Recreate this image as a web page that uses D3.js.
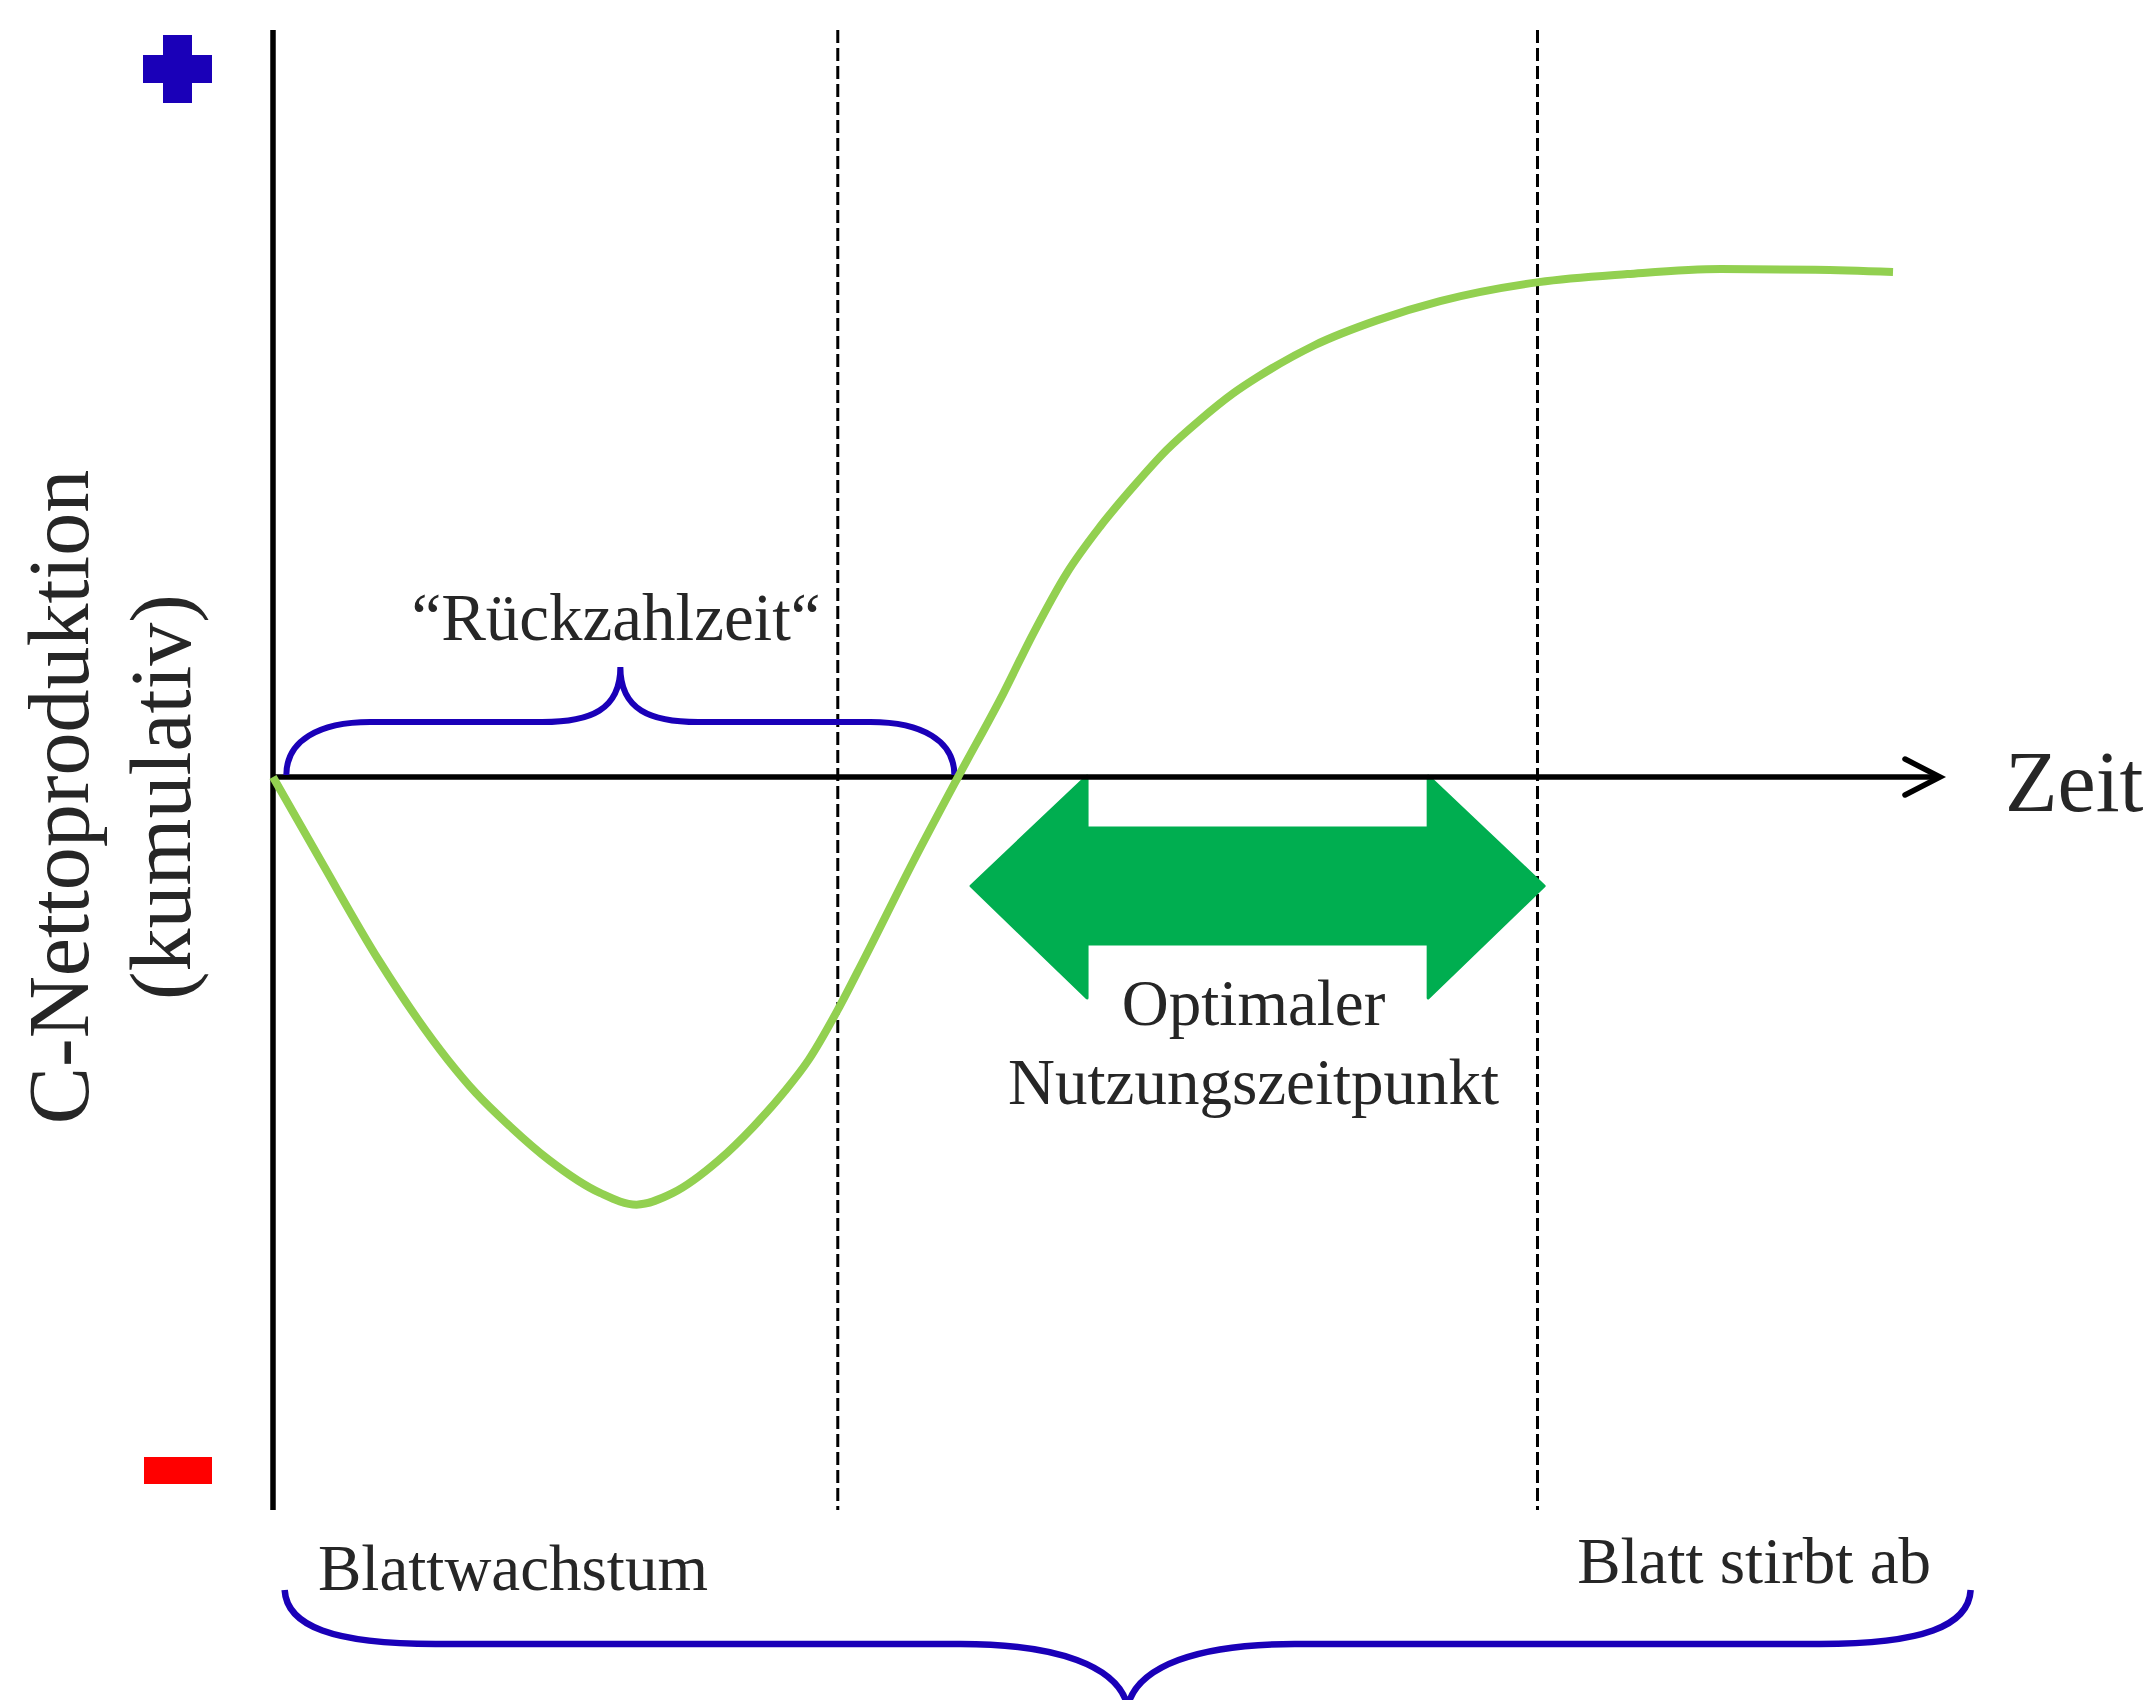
<!DOCTYPE html>
<html>
<head>
<meta charset="utf-8">
<script src="https://cdn.jsdelivr.net/npm/d3@7"></script>
<style>
  html, body { margin: 0; padding: 0; background: #fff; }
  svg { display: block; }
  text { font-family: "Liberation Serif", "Times New Roman", serif; fill: #262626; }
</style>
</head>
<body>
<svg id="chart" width="2149" height="1700"></svg>
<script>
// ---- data ----
const timeVals = [0, 2.94, 6.33, 10.50, 12.17, 14.23, 16.57, 19.63, 21.82,
                  24.01, 26.77, 28.85, 30.64, 32.15, 33.89, 35.46, 38.48, 41.12,
                  43.84, 45.64, 47.64, 49.64, 51.64, 53.64, 55.64, 57.64, 59.14,
                  62.55, 66.30, 70.05, 75.98, 81.30, 86.91, 92.56, 97.24];
const cumNetProd = [0, -11.74, -25.0, -38.7, -43.2, -47.8, -52.4, -56.9, -58.5,
                    -56.9, -52.4, -47.8, -43.2, -38.7, -31.9, -25.0, -11.35, 0,
                    11.45, 19.66, 27.87, 34.24, 39.71, 44.73, 48.84, 52.49, 54.76,
                    59.1, 62.5, 65.1, 67.7, 68.8, 69.5, 69.4, 69.1];
const phaseBoundaries = [33.9, 75.9];
const paybackPeriod = [0.8, 40.9];
const optimalUse = [41.9, 76.3];
const leafLife = [0.7, 101.9];
const yAxisLabel = ["C-Nettoproduktion", "(kumulativ)"];
const xAxisLabel = "Zeit";
const paybackLabel = "\u201CRückzahlzeit\u201C";
const optimalLabel = ["Optimaler", "Nutzungszeitpunkt"];
const phaseLabels = ["Blattwachstum", "Blatt stirbt ab"];

// ---- scales ----
const x = d3.scaleLinear().domain([0, 100]).range([273, 1939]);
const y = d3.scaleLinear().domain([-100, 100]).range([1508, 46]);

const svg = d3.select("#chart");
const BLUE = "#1a00b8";

// sign markers
svg.append("rect").attr("x", 163).attr("y", 35).attr("width", 29).attr("height", 68).attr("fill", BLUE);
svg.append("rect").attr("x", 143).attr("y", 55).attr("width", 69).attr("height", 28).attr("fill", BLUE);
svg.append("rect").attr("x", 144).attr("y", 1457).attr("width", 68).attr("height", 27).attr("fill", "#ff0000");

// y axis label (rotated)
const yMid = 797;
[88, 190].forEach((bx, i) => {
  svg.append("text")
    .attr("transform", `translate(${bx},${yMid}) rotate(-90)`)
    .attr("text-anchor", "middle")
    .attr("font-size", 86)
    .text(yAxisLabel[i]);
});

// dashed phase boundaries
svg.selectAll("line.phase").data(phaseBoundaries).join("line")
  .attr("class", "phase")
  .attr("x1", d => x(d)).attr("x2", d => x(d))
  .attr("y1", 30).attr("y2", 1510)
  .attr("stroke", "#000").attr("stroke-width", 3)
  .attr("stroke-dasharray", "13 5");

// optimal-use double arrow
(function () {
  const xl = x(optimalUse[0]), xr = x(optimalUse[1]);
  const cy = 886, head = 116, hh = 110, sh = 58;
  const pts = [
    [xl, cy], [xl + head, cy - hh], [xl + head, cy - sh], [xr - head, cy - sh], [xr - head, cy - hh],
    [xr, cy], [xr - head, cy + hh + 2], [xr - head, cy + sh], [xl + head, cy + sh], [xl + head, cy + hh + 2]
  ];
  svg.append("path").attr("d", d3.line()(pts) + "Z")
    .attr("fill", "#00ae50").attr("stroke", "#00ae50").attr("stroke-width", 3).attr("stroke-linejoin", "round");
})();

// axes
svg.append("line").attr("x1", x(0)).attr("x2", x(0)).attr("y1", 30).attr("y2", 1510)
  .attr("stroke", "#000").attr("stroke-width", 5.5);
svg.append("line").attr("x1", x(0)).attr("x2", x(100)).attr("y1", y(0)).attr("y2", y(0))
  .attr("stroke", "#000").attr("stroke-width", 5.5);
svg.append("path")
  .attr("d", d3.line()([[x(100) - 34, y(0) - 18], [x(100) + 1, y(0)], [x(100) - 34, y(0) + 18]]))
  .attr("fill", "none").attr("stroke", "#000").attr("stroke-width", 5.5)
  .attr("stroke-linecap", "round").attr("stroke-linejoin", "miter");

svg.append("text").attr("x", 2005).attr("y", 811).attr("font-size", 86).text(xAxisLabel);

// payback brace
(function () {
  const x0 = x(paybackPeriod[0]), x1 = x(paybackPeriod[1]);
  const yb = y(0) - 2, top = 722, peak = 667, mid = (x0 + x1) / 2;
  const p = d3.path();
  p.moveTo(x0, yb);
  p.bezierCurveTo(x0, yb - 34, x0 + 32, top, x0 + 84, top);
  p.lineTo(mid - 78, top);
  p.bezierCurveTo(mid - 30, top, mid, top - 12, mid, peak);
  p.bezierCurveTo(mid, top - 12, mid + 30, top, mid + 78, top);
  p.lineTo(x1 - 84, top);
  p.bezierCurveTo(x1 - 32, top, x1, yb - 34, x1, yb);
  svg.append("path").attr("d", p.toString()).attr("fill", "none")
    .attr("stroke", BLUE).attr("stroke-width", 6);
})();
svg.append("text").attr("x", 616).attr("y", 640).attr("text-anchor", "middle")
  .attr("font-size", 67).text(paybackLabel);

// cumulative net production curve
const pts = timeVals.map((t, i) => [t, cumNetProd[i]]);
svg.append("path")
  .attr("d", d3.line().x(d => x(d[0])).y(d => y(d[1])).curve(d3.curveMonotoneX)(pts))
  .attr("fill", "none").attr("stroke", "#92d050").attr("stroke-width", 8)
  .attr("stroke-linecap", "butt");

// optimal label
optimalLabel.forEach((t, i) => {
  svg.append("text").attr("x", (x(optimalUse[0]) + x(optimalUse[1])) / 2 - 4)
    .attr("y", 1025 + i * 79).attr("text-anchor", "middle").attr("font-size", 65).text(t);
});

// phase labels
svg.append("text").attr("x", 318).attr("y", 1590).attr("font-size", 65).text(phaseLabels[0]);
svg.append("text").attr("x", 1931).attr("y", 1583).attr("text-anchor", "end").attr("font-size", 65).text(phaseLabels[1]);

// leaf-life brace
(function () {
  const x0 = x(leafLife[0]), x1 = x(leafLife[1]);
  const yb = 1590, flat = 1644, tip = 1706, mid = (x0 + x1) / 2;
  const p = d3.path();
  p.moveTo(x0, yb);
  p.bezierCurveTo(x0 + 2, yb + 36, x0 + 48, flat, x0 + 151, flat);
  p.lineTo(mid - 167, flat);
  p.bezierCurveTo(mid - 70, flat, mid - 10, flat + 22, mid, tip);
  p.bezierCurveTo(mid + 10, flat + 22, mid + 70, flat, mid + 167, flat);
  p.lineTo(x1 - 151, flat);
  p.bezierCurveTo(x1 - 48, flat, x1 - 2, yb + 36, x1, yb);
  svg.append("path").attr("d", p.toString()).attr("fill", "none")
    .attr("stroke", BLUE).attr("stroke-width", 6.5);
})();
</script>
</body>
</html>
